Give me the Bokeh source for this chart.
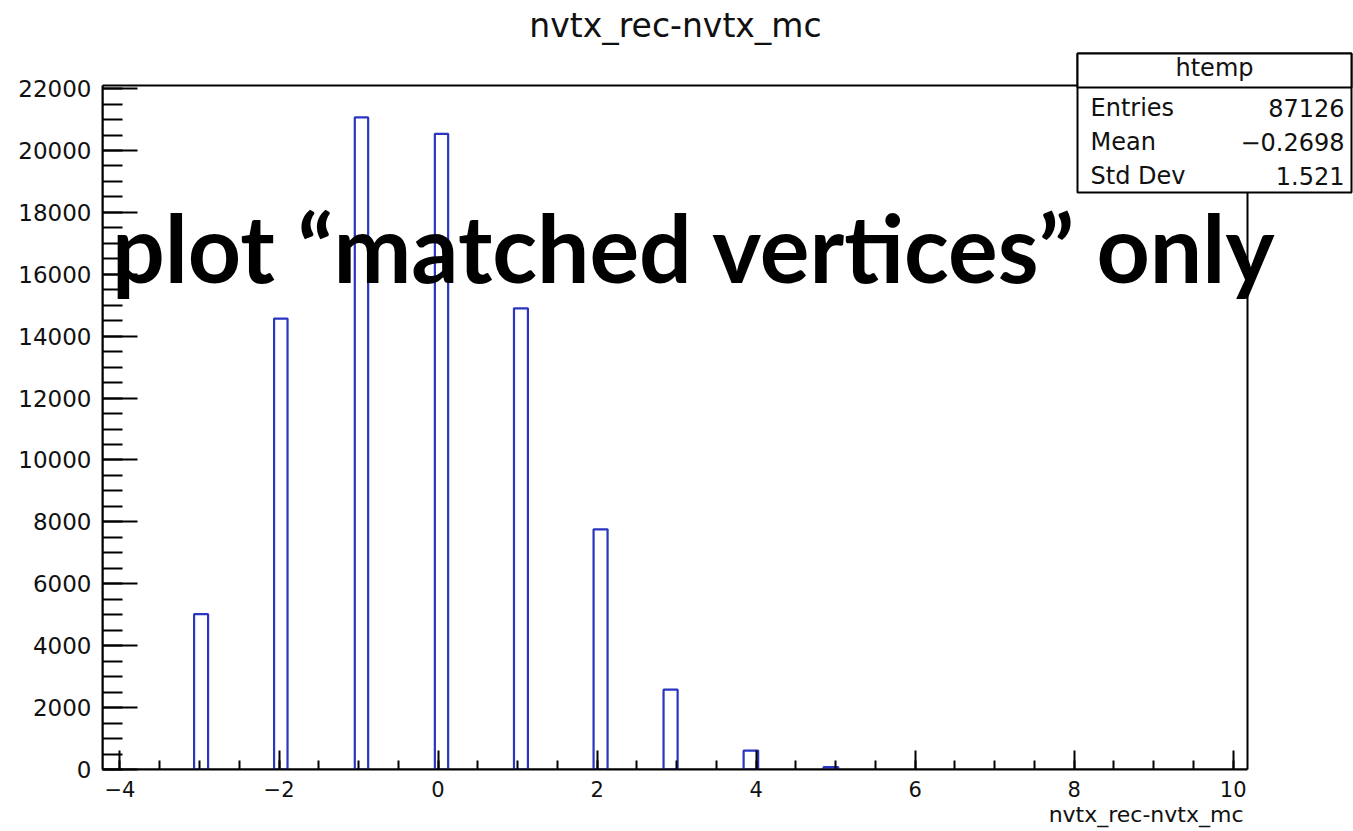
from bokeh.plotting import figure
from bokeh.models import (Range1d, SingleIntervalTicker, CustomJSTickFormatter,
                          BoxAnnotation, Label, Title)
from bokeh.embed import file_html
from bokeh.resources import INLINE

# ---------------- data ----------------
values = [-3, -2, -1, 0, 1, 2, 3, 4, 5]
counts = [5020, 14570, 21070, 20540, 14900, 7760, 2580, 610, 80]
bin_lo = [-3.068, -2.062, -1.047, -0.040, 0.955, 1.956, 2.836, 3.843, 4.849]
bin_hi = [-2.892, -1.893, -0.879, 0.127, 1.130, 2.132, 3.013, 4.026, 5.033]

title_text = "nvtx_rec-nvtx_mc"
xaxis_text = "nvtx_rec-nvtx_mc"
overlay_text = "plot \u201cmatched vertices\u201d only"
stats_name = "htemp"
stats_rows = ["Entries", "Mean", "Std Dev"]
stats_vals = ["87126", "\u22120.2698", "1.521"]

# ---------------- layout ----------------
W, H = 1353, 831
FRAME_L, FRAME_R, FRAME_T, FRAME_B = 102, 1247, 85, 769   # histogram frame, picture pixels
X0, X1 = -4.22, 10.18
Y0, Y1 = 0, 22100

def xd(px):
    return X0 + (px - FRAME_L) * (X1 - X0) / (FRAME_R - FRAME_L)

def yd(py):
    return Y0 + (FRAME_B - py) * (Y1 - Y0) / (FRAME_B - FRAME_T)

FONT = "DejaVu Sans"
BLUE = "#2a35c0"
INK = "#111111"

# the bokeh frame covers everything right of the y axis and above the x axis,
# so that the stats box, the title and the caption are not clipped
p = figure(width=W, height=H, output_backend="svg", toolbar_location=None,
           x_range=Range1d(X0, xd(W)), y_range=Range1d(Y0, yd(0)),
           min_border_left=FRAME_L, min_border_right=0,
           min_border_top=0, min_border_bottom=H - FRAME_B)

p.xgrid.visible = False
p.ygrid.visible = False
p.outline_line_color = None
p.background_fill_color = "white"
p.border_fill_color = "white"

minus_fmt = CustomJSTickFormatter(code="""
    return (tick < 0 ? '\\u2212' : '') + Math.abs(tick).toString();
""")

xa = p.xaxis[0]
xa.bounds = (X0, X1)
xa.ticker = SingleIntervalTicker(interval=2, num_minor_ticks=4)
xa.formatter = minus_fmt
xa.major_tick_in = 19
xa.major_tick_out = 0
xa.minor_tick_in = 9
xa.minor_tick_out = 0
xa.major_tick_line_width = 2
xa.minor_tick_line_width = 2
xa.axis_line_width = 2
xa.major_label_text_font = FONT
xa.major_label_text_font_size = "21px"
xa.major_label_text_color = INK
xa.major_label_standoff = 11

ya = p.yaxis[0]
ya.bounds = (Y0, Y1)
ya.ticker = SingleIntervalTicker(interval=2000, num_minor_ticks=4)
ya.formatter = minus_fmt
ya.major_tick_in = 35
ya.major_tick_out = 0
ya.minor_tick_in = 20
ya.minor_tick_out = 0
ya.major_tick_line_width = 2
ya.minor_tick_line_width = 2
ya.axis_line_width = 2
ya.major_label_text_font = FONT
ya.major_label_text_font_size = "23px"
ya.major_label_text_color = INK
ya.major_label_standoff = 11

# histogram frame (top and right edges)
p.add_layout(BoxAnnotation(left=X0, right=X1, bottom=Y0, top=Y1, level="underlay",
                           fill_alpha=0, line_color="black", line_alpha=1.0, line_width=2))

# histogram bars (outline only)
p.quad(left=bin_lo, right=bin_hi, bottom=0, top=counts,
       fill_color=None, line_color=BLUE, line_width=2.2)

# x axis title, right-aligned at the end of the histogram frame
p.add_layout(Title(text=xaxis_text, align="right", offset=W - 1243, standoff=0,
                   text_font=FONT, text_font_size="22px", text_font_style="normal",
                   text_color=INK), "below")

def text(px, py, s, align, size, font=FONT, style="normal", color=INK):
    # py is the wanted baseline; bokeh's alphabetic anchor sits ~0.34em above it
    anchor = py - 0.34 * size
    p.add_layout(Label(x=xd(px), y=yd(anchor), text=s,
                       text_align=align, text_baseline="alphabetic",
                       text_font=font, text_font_size=f"{size}px",
                       text_font_style=style, text_color=color))

# title
text(675, 36, title_text, "center", 33)

# stats box
for top_px, bot_px in [(53, 192), (53, 87)]:
    p.add_layout(BoxAnnotation(left=xd(1077), right=xd(1351), top=yd(top_px), bottom=yd(bot_px),
                               fill_color="white", fill_alpha=1.0,
                               line_color="black", line_width=2, line_alpha=1.0))
text(1214, 76, stats_name, "center", 24)
for name, val, by in zip(stats_rows, stats_vals, [116, 150, 184]):
    text(1090, by, name, "left", 24)
    text(1344, by, val, "right", 24)

# big overlay caption
text(694, 278, overlay_text, "center", 93, font="Lato", style="bold", color="black")

open("out.html", "w").write(file_html(p, INLINE))
